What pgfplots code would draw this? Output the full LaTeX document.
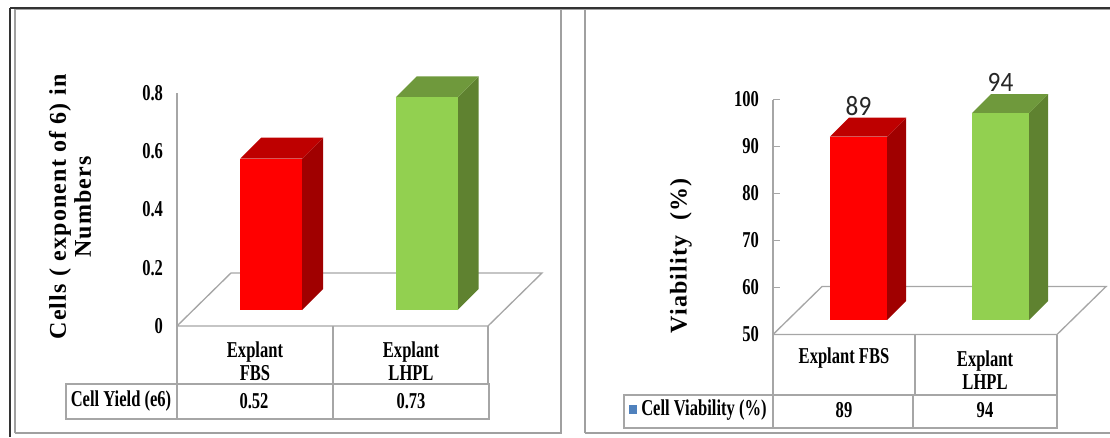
\documentclass[border=0pt]{standalone}
\usepackage{fontspec}
\usepackage{pgfplots}
\pgfplotsset{compat=1.18}
\setmainfont{Liberation Serif}
\newfontfamily\narrowbold[FakeStretch=0.73]{Liberation Serif Bold}
\newfontfamily\spacedbold[LetterSpace=5]{Liberation Serif Bold}
\newfontfamily\valuefont[FakeStretch=0.9]{Carlito}
\definecolor{framegray}{HTML}{A0A0A0}
\definecolor{gridgray}{HTML}{A6A6A6}
\definecolor{redfront}{HTML}{FF0000}
\definecolor{redside}{HTML}{A00000}
\definecolor{redtop}{HTML}{BE0000}
\definecolor{greenfront}{HTML}{92D050}
\definecolor{greenside}{HTML}{5F8230}
\definecolor{greentop}{HTML}{6F993C}
\definecolor{legendblue}{HTML}{4F81BD}
% sizes are given in 0.75pt units, so that the picture is 1110 by 437 units
\newcommand{\lab}[1]{\fontsize{17}{18}\narrowbold #1}
\pgfplotsset{
  floorline/.style={draw=gridgray, line width=1pt, no marks, forget plot},
  frontaxis/.style={
    scale only axis, axis x line=none, axis y line*=left,
    y axis line style={draw=gridgray, line width=1pt, -},
    clip=false, xmin=0.5, xmax=2.5,
    tick style={draw=gridgray, line width=1pt},
    yticklabel style={font=\lab, /pgf/number format/assume math mode=true},
  },
  baraxis/.style={
    scale only axis, hide axis, clip=false, xmin=0.5, xmax=2.5,
    ybar, bar shift=0pt,
  },
}
\begin{document}
\begin{tikzpicture}[x=0.75pt, y=0.75pt]
\path[use as bounding box] (0,0) rectangle (1110,437);
% page edges and panel frames: the right panel runs off the page
\draw[framegray, line width=1pt] (15,4) -- (15,428) (15,4) -- (561,4) -- (561,428);
\draw[framegray, line width=1pt] (585,4) -- (1110,4) (585,4) -- (585,428);
\draw[framegray, line width=1pt] (15,427.5) -- (1110,427.5);
\draw[black!80, line width=1pt] (10,429) -- (1110,429);
\draw[black!80, line width=1pt] (10,429) -- (10,0);

% ---- cell yield ----
\begin{axis}[frontaxis, name=yieldaxis, at={(177*0.75pt,111*0.75pt)}, anchor=south west,
  width=233.25pt, height=174.75pt, ymin=0, ymax=0.8,
  ytick={0,0.2,0.4,0.6,0.8}, yticklabels={0,0.2,0.4,0.6,0.8},
  major tick length=0pt, yticklabel shift=7pt]
\addplot[floorline] coordinates {(0.5,0) (0.847,0.182) (2.847,0.182) (2.5,0) (0.5,0)};
\end{axis}
\begin{axis}[baraxis, at={(193.5*0.75pt,127*0.75pt)}, anchor=south west,
  width=233.25pt, height=174.75pt, ymin=0, ymax=0.8, bar width=46.5pt]
\addplot[sharp plot, fill=redside, draw=none] coordinates {(1.199,0) (1.334,0.072) (1.334,0.592) (1.199,0.52)} -- cycle;
\addplot[sharp plot, fill=redtop, draw=none] coordinates {(0.801,0.52) (1.199,0.52) (1.334,0.592) (0.936,0.592)} -- cycle;
\addplot[fill=redfront, draw=none] coordinates {(1,0.52)};
\addplot[sharp plot, fill=greenside, draw=none] coordinates {(2.199,0) (2.334,0.072) (2.334,0.802) (2.199,0.73)} -- cycle;
\addplot[sharp plot, fill=greentop, draw=none] coordinates {(1.801,0.73) (2.199,0.73) (2.334,0.802) (1.936,0.802)} -- cycle;
\addplot[fill=greenfront, draw=none] coordinates {(2,0.73)};
\end{axis}
% data table under the bars
\draw[gridgray, line width=1pt] (177,111) -- (177,18) (333,111) -- (333,18) (488,111) -- (488,53);
\draw[gridgray, line width=1pt] (66,53) rectangle (489,18);
\node[font=\lab, align=center] at (255,76) {Explant\\[-1pt]FBS};
\node[font=\lab, align=center] at (411,76) {Explant\\[-1pt]LHPL};
\node[font=\lab] at (121,36) {Cell Yield (e6)};
\node[font=\lab] at (254,36) {0.52};
\node[font=\lab] at (411,36) {0.73};
\node[rotate=90, align=center, font=\fontsize{18}{18.75}\spacedbold] at (70,230)
  {Cells ( exponent of 6) in\\Numbers};

% ---- cell viability ----
\begin{axis}[frontaxis, at={(773*0.75pt,102.5*0.75pt)}, anchor=south west,
  width=213pt, height=176.25pt, ymin=50, ymax=100,
  ytick={50,60,70,80,90,100}, major tick length=5pt, yticklabel shift=7pt]
\addplot[floorline] coordinates {(0.5,50) (0.845,60.2) (2.845,60.2) (2.5,50) (0.5,50)};
\end{axis}
\begin{axis}[baraxis, at={(787.5*0.75pt,117*0.75pt)}, anchor=south west,
  width=213pt, height=176.25pt, ymin=50, ymax=100, bar width=42.75pt,
  nodes near coords,
  /pgf/number format/assume math mode=true,
  every node near coord/.style={anchor=center, yshift=23pt,
    font=\fontsize{21}{23}\valuefont, text=black!85}]
\addplot[sharp plot, fill=redside, draw=none, nodes near coords=] coordinates {(1.201,50) (1.335,54.04) (1.335,93.04) (1.201,89)} -- cycle;
\addplot[sharp plot, fill=redtop, draw=none, nodes near coords=] coordinates {(0.799,89) (1.201,89) (1.335,93.04) (0.933,93.04)} -- cycle;
\addplot[fill=redfront, draw=none] coordinates {(1,89)};
\addplot[sharp plot, fill=greenside, draw=none, nodes near coords=] coordinates {(2.201,50) (2.335,54.04) (2.335,98.04) (2.201,94)} -- cycle;
\addplot[sharp plot, fill=greentop, draw=none, nodes near coords=] coordinates {(1.799,94) (2.201,94) (2.335,98.04) (1.933,98.04)} -- cycle;
\addplot[fill=greenfront, draw=none] coordinates {(2,94)};
\end{axis}
\draw[gridgray, line width=1pt] (773,102) -- (773,9) (915,102) -- (915,42) (913,42) -- (913,9) (1057,102) -- (1057,42);
\draw[gridgray, line width=1pt] (624,42) rectangle (1057,9);
\node[font=\lab] at (844,79) {Explant FBS};
\node[font=\lab, align=center] at (985,67) {Explant\\[-1pt]LHPL};
\fill[legendblue] (629,23) rectangle (637,32);
\node[font=\lab, anchor=west, inner sep=0pt] at (641,27) {Cell Viability (\%)};
\node[font=\lab] at (844,27) {89};
\node[font=\lab] at (985,27) {94};
\node[rotate=90, font=\fontsize{18}{20}\spacedbold] at (681,181) {Viability\ \ (\%)};
\end{tikzpicture}
\end{document}
